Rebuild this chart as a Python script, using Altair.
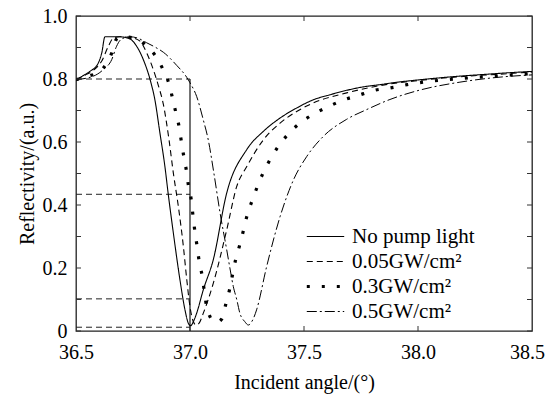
import altair as alt
import pandas as pd

series_names = ["No pump light", "0.05GW/cm²", "0.3GW/cm²", "0.5GW/cm²"]

x_nopump = [36.5, 36.53, 36.561, 36.598, 36.613, 36.627, 36.69, 36.737, 36.766, 36.795, 36.825,
            36.846, 36.868, 36.89, 36.905, 36.927, 36.956, 36.978, 36.993, 37.003, 37.015,
            37.029, 37.058, 37.102, 37.161, 37.249, 37.322, 37.395, 37.468, 37.541, 37.614,
            37.687, 37.76, 37.833, 37.9, 38.0, 38.1, 38.2, 38.3, 38.4, 38.5]
y_nopump = [0.798, 0.81, 0.824, 0.851, 0.883, 0.934, 0.934, 0.927, 0.904, 0.862, 0.798,
            0.734, 0.629, 0.522, 0.432, 0.311, 0.162, 0.067, 0.024, 0.017, 0.03,
            0.056, 0.13, 0.226, 0.438, 0.576, 0.634, 0.676, 0.708, 0.734, 0.75,
            0.764, 0.775, 0.782, 0.789, 0.797, 0.804, 0.81, 0.815, 0.82, 0.824]

x_005 = [36.5, 36.54, 36.58, 36.613, 36.642, 36.664, 36.69, 36.75, 36.781, 36.81, 36.839,
         36.861, 36.883, 36.908, 36.927, 36.949, 36.971, 36.986, 37.0, 37.012, 37.026,
         37.04, 37.058, 37.102, 37.161, 37.205, 37.249, 37.322, 37.395, 37.468, 37.541,
         37.687, 37.833, 38.0, 38.2, 38.35, 38.5]
y_005 = [0.798, 0.812, 0.83, 0.857, 0.904, 0.93, 0.934, 0.93, 0.92, 0.883, 0.83,
         0.78, 0.72, 0.607, 0.501, 0.395, 0.268, 0.162, 0.077, 0.035, 0.019,
         0.025, 0.056, 0.151, 0.321, 0.459, 0.522, 0.607, 0.66, 0.697, 0.724,
         0.756, 0.779, 0.795, 0.808, 0.815, 0.822]

x_03 = [36.5, 36.56, 36.6, 36.62, 36.657, 36.678, 36.7, 36.76, 36.803, 36.85, 36.883,
        36.908, 36.924, 36.939, 36.953, 36.963, 36.974, 36.986, 36.993, 37.004, 37.014,
        37.022, 37.032, 37.041, 37.054, 37.063, 37.073, 37.088, 37.1, 37.12, 37.139,
        37.157, 37.173, 37.187, 37.2, 37.217, 37.234, 37.249, 37.271, 37.293, 37.319,
        37.351, 37.387, 37.428, 37.479, 37.538, 37.6, 37.668, 37.738, 37.808, 37.88,
        37.952, 38.023, 38.2, 38.35, 38.5]
y_03 = [0.798, 0.81, 0.822, 0.835, 0.883, 0.927, 0.934, 0.93, 0.909, 0.872, 0.828,
        0.784, 0.737, 0.69, 0.645, 0.597, 0.549, 0.501, 0.462, 0.424, 0.36,
        0.313, 0.265, 0.217, 0.173, 0.125, 0.077, 0.045, 0.032, 0.028, 0.038,
        0.085, 0.13, 0.18, 0.226, 0.27, 0.318, 0.363, 0.411, 0.454, 0.499,
        0.544, 0.586, 0.623, 0.658, 0.687, 0.71, 0.732, 0.748, 0.764, 0.772,
        0.782, 0.79, 0.802, 0.81, 0.817]

x_05 = [36.5, 36.576, 36.62, 36.657, 36.678, 36.7, 36.737, 36.77, 36.81, 36.85, 36.883,
        36.942, 36.986, 37.0, 37.029, 37.058, 37.08, 37.105, 37.132, 37.161, 37.175,
        37.19, 37.205, 37.219, 37.24, 37.256, 37.275, 37.292, 37.336, 37.395, 37.454,
        37.512, 37.585, 37.687, 37.775, 37.877, 38.009, 38.184, 38.36, 38.5]
y_05 = [0.798, 0.809, 0.83, 0.862, 0.904, 0.927, 0.934, 0.93, 0.915, 0.9, 0.885,
        0.843, 0.805, 0.788, 0.745, 0.671, 0.607, 0.5, 0.374, 0.258, 0.2,
        0.141, 0.1, 0.056, 0.03, 0.019, 0.035, 0.067, 0.204, 0.363, 0.48,
        0.554, 0.618, 0.672, 0.703, 0.735, 0.765, 0.79, 0.806, 0.813]

# reflectivity read at 37.0 degrees (dashed guide lines)
marker_levels = [0.8, 0.434, 0.102, 0.012]
marker_start = 36.5
marker_angle = 37.0

x_ticks = [36.5, 37.0, 37.5, 38.0, 38.5]
y_ticks = [0.0, 0.2, 0.4, 0.6, 0.8, 1.0]
y_minor = [0.0, 0.1, 0.2, 0.3, 0.4, 0.5, 0.6, 0.7, 0.8, 0.9, 1.0]
x_minor = [37.0, 37.5, 38.0]

dash_patterns = [[1, 0], [6, 4], [3, 12], [10, 3, 2, 3]]
widths = [1.1, 1.1, 3.2, 1.0]

W, H = 456, 315
FONT = "Liberation Serif"

rows = []
for name, xs, ys in zip(series_names, [x_nopump, x_005, x_03, x_05], [y_nopump, y_005, y_03, y_05]):
    for a, r in zip(xs, ys):
        rows.append({"angle": a, "refl": r, "series": name})
df = pd.DataFrame(rows)

xscale = alt.Scale(domain=[36.5, 38.5], nice=False, zero=False)
yscale = alt.Scale(domain=[0, 1.0], nice=False)

xaxis = alt.Axis(values=x_ticks, format=".1f", title="Incident angle/(°)", ticks=False,
                 domain=False, grid=False, labelPadding=11, titlePadding=10,
                 labelFlush=False,
                 labelOffset={"expr": "datum.value >= 38.5 ? -5 : 0"})
yaxis = alt.Axis(values=y_ticks, title="Reflectivity/(a.u.)", ticks=False, domain=False,
                 grid=False, labelPadding=9, titlePadding=5,
                 labelExpr="datum.value == 0 ? '0' : format(datum.value, '.1f')")

legend = alt.Legend(title=None, orient="none", legendX=229, legendY=208,
                    symbolType="stroke", symbolSize=1400, symbolStrokeColor="black",
                    labelFont=FONT, labelFontSize=21, labelColor="black",
                    labelOffset=6, rowPadding=0, clipHeight=25, labelLimit=300)

lines = alt.Chart(df).mark_line(interpolate="monotone", color="black", clip=True).encode(
    x=alt.X("angle:Q", scale=xscale, axis=xaxis),
    y=alt.Y("refl:Q", scale=yscale, axis=yaxis),
    strokeDash=alt.StrokeDash("series:N", sort=series_names,
                              scale=alt.Scale(domain=series_names, range=dash_patterns),
                              legend=legend),
    strokeWidth=alt.StrokeWidth("series:N", sort=series_names,
                                scale=alt.Scale(type="ordinal", domain=series_names, range=widths),
                                legend=legend),
)

mdf = pd.DataFrame({"refl": marker_levels,
                    "angle": [marker_start] * len(marker_levels),
                    "angle2": [marker_angle] * len(marker_levels)})
hguides = alt.Chart(mdf).mark_rule(color="#222", strokeDash=[6, 4], strokeWidth=1).encode(
    x=alt.X("angle:Q", scale=xscale), x2="angle2:Q", y=alt.Y("refl:Q", scale=yscale))

vdf = pd.DataFrame({"angle": [marker_angle], "refl": [0.0], "refl2": [max(marker_levels)]})
vguide = alt.Chart(vdf).mark_rule(color="black", strokeWidth=1.1).encode(
    x=alt.X("angle:Q", scale=xscale), y=alt.Y("refl:Q", scale=yscale), y2="refl2:Q")

ydf = pd.DataFrame({"refl": y_minor})
xdf = pd.DataFrame({"angle": x_minor})
yt_left = alt.Chart(ydf).mark_rule(color="#333").encode(
    y=alt.Y("refl:Q", scale=yscale), x=alt.value(0), x2=alt.value(5))
yt_right = alt.Chart(ydf).mark_rule(color="#333").encode(
    y=alt.Y("refl:Q", scale=yscale), x=alt.value(W), x2=alt.value(W - 5))
xt_bot = alt.Chart(xdf).mark_rule(color="#333").encode(
    x=alt.X("angle:Q", scale=xscale), y=alt.value(H), y2=alt.value(H - 5))
xt_top = alt.Chart(xdf).mark_rule(color="#333").encode(
    x=alt.X("angle:Q", scale=xscale), y=alt.value(0), y2=alt.value(5))

chart = alt.layer(hguides, vguide, lines, yt_left, yt_right, xt_bot, xt_top).properties(
    width=W, height=H,
    autosize=alt.AutoSizeParams(type="none"),
    padding={"left": 76, "top": 16, "right": 14, "bottom": 67},
    background="white",
).configure_view(
    stroke="#222", strokeWidth=1.3
).configure_axis(
    labelFont=FONT, labelFontSize=20, labelColor="black",
    titleFont=FONT, titleFontSize=20, titleFontWeight="normal", titleColor="black",
)

chart.save("out.html", embed_options={"renderer": "svg", "actions": False})
